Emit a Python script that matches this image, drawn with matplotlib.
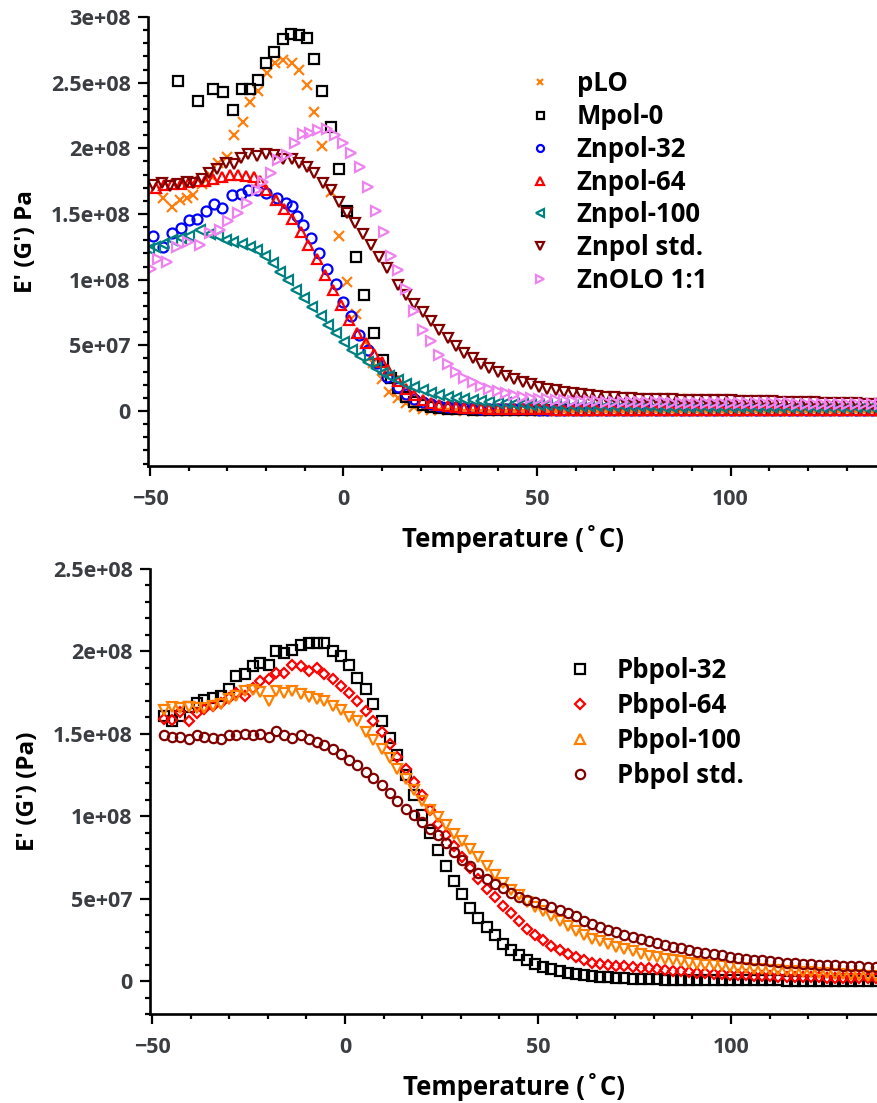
import numpy as np
import matplotlib
matplotlib.use("Agg")
import matplotlib.pyplot as plt
from matplotlib.lines import Line2D
from matplotlib.ticker import MultipleLocator

plt.rcParams["font.family"] = ["Open Sans", "DejaVu Sans"]
plt.rcParams["font.weight"] = "bold"

# ---------- DATA (E' in units of 1e7 Pa, T in degC) ----------
# top panel: shared high-temperature part of the ramp
T_TAIL_TOP = [14.0, 16.2, 18.3, 20.5, 22.6, 24.8, 26.9, 29.1, 31.2, 33.4,
              35.5, 37.7, 39.8, 42.0, 44.1, 46.3, 48.4, 50.6, 52.7, 54.9,
              57.0, 59.2, 61.3, 63.5, 65.6, 67.8, 69.9, 72.1, 74.2, 76.4,
              78.5, 80.7, 82.8, 85.0, 87.1, 89.3, 91.4, 93.6, 95.7, 97.9,
              100.0, 102.2, 104.3, 106.5, 108.6, 110.8, 112.9, 115.1, 117.2, 119.4,
              121.5, 123.7, 125.8, 128.0, 130.1, 132.3, 134.4, 136.6, 138.7]

T_PLO = [-46.6, -44.4, -42.2, -40.5, -38.8, -36.6, -34.5, -32.4, -30.2, -28.2,
         -26.0, -24.2, -22.0, -19.8, -17.7, -15.6, -13.4, -11.4, -9.5, -7.6,
         -5.5, -3.3, -1.2, 1.0, 3.2, 5.6, 7.7, 9.9, 11.8]
E_PLO = [16.2, 15.55, 16.05, 16.2, 16.45, 17.3, 17.95, 18.85, 19.35, 21.0,
         22.0, 23.5, 24.4, 25.7, 26.5, 26.7, 26.5, 26.0, 24.8, 22.8,
         20.2, 16.7, 13.3, 9.85, 7.35, 5.25, 3.65, 2.4, 1.47]
E_PLO_TAIL = [0.95, 0.58, 0.32, 0.18, 0.11, 0.07, 0.05, 0.04, 0.03, 0.03,
              0.03, 0.02, 0.02, 0.02, 0.02, 0.02, 0.02, 0.02, 0.02, 0.02,
              0.02, 0.02, 0.02, 0.02, 0.02, 0.02, 0.02, 0.02, 0.02, 0.02,
              0.02, 0.02, 0.02, 0.02, 0.02, 0.02, 0.02, 0.02, 0.02, 0.02,
              0.02, 0.02, 0.02, 0.02, 0.02, 0.02, 0.02, 0.02, 0.02, 0.02,
              0.02, 0.02, 0.02, 0.02, 0.02, 0.02, 0.02, 0.02, 0.02]

T_MPOL = [-42.8, -37.5, -33.8, -31.1, -28.5, -26.3, -24.2, -22.0, -20.0, -17.9,
          -15.7, -13.6, -11.5, -9.5, -7.6, -5.5, -3.3, -1.2, 1.0, 3.2,
          5.3, 7.9, 10.3, 12.4]
E_MPOL = [25.1, 23.6, 24.5, 24.3, 22.95, 24.55, 24.55, 25.2, 26.5, 27.3,
          28.3, 28.7, 28.6, 28.4, 26.8, 24.4, 21.6, 18.4, 15.2, 11.7,
          8.85, 5.95, 3.9, 2.5]
E_MPOL_TAIL = [1.75, 1.1, 0.7, 0.45, 0.3, 0.22, 0.17, 0.14, 0.12, 0.1,
               0.09, 0.09, 0.08, 0.08, 0.07, 0.07, 0.07, 0.06, 0.06, 0.06,
               0.06, 0.06, 0.05, 0.05, 0.05, 0.05, 0.05, 0.05, 0.05, 0.05,
               0.05, 0.05, 0.05, 0.05, 0.05, 0.05, 0.05, 0.05, 0.05, 0.05,
               0.05, 0.05, 0.05, 0.05, 0.04, 0.04, 0.04, 0.04, 0.04, 0.04,
               0.04, 0.04, 0.04, 0.04, 0.04, 0.04, 0.04, 0.04, 0.04]

T_ZN32 = [-49.2, -46.6, -44.2, -42.1, -39.8, -37.8, -35.6, -33.5, -31.5, -28.7,
          -26.5, -24.6, -22.4, -20.0, -17.3, -14.9, -13.2, -11.9, -10.4, -8.4,
          -6.3, -4.2, -2.0, -0.2, 1.9, 4.0, 6.3, 8.6, 11.2]
E_ZN32 = [13.3, 12.5, 13.55, 13.9, 14.55, 14.65, 15.25, 15.75, 15.45, 16.45,
          16.5, 16.8, 16.85, 16.6, 16.25, 15.85, 15.6, 14.85, 14.15, 13.2,
          12.05, 10.8, 9.65, 8.3, 7.2, 5.8, 4.65, 3.65, 2.6]
E_ZN32_TAIL = [1.8, 1.3, 0.92, 0.68, 0.52, 0.41, 0.33, 0.27, 0.23, 0.2,
               0.18, 0.16, 0.15, 0.14, 0.13, 0.12, 0.12, 0.11, 0.11, 0.1,
               0.1, 0.1, 0.1, 0.1, 0.1, 0.1, 0.1, 0.1, 0.1, 0.1,
               0.1, 0.1, 0.09, 0.09, 0.09, 0.09, 0.09, 0.09, 0.09, 0.09,
               0.09, 0.09, 0.09, 0.09, 0.09, 0.09, 0.09, 0.09, 0.09, 0.09,
               0.08, 0.08, 0.08, 0.08, 0.08, 0.08, 0.08, 0.08, 0.08]

T_ZN64 = [-48.4, -46.3, -44.2, -42.1, -39.9, -37.8, -35.7, -33.6, -31.5, -29.4,
          -27.3, -25.2, -23.1, -21.5, -20.0, -17.5, -15.4, -13.2, -11.1, -9.1,
          -6.9, -4.8, -2.8, -0.7, 1.5, 3.6, 5.7, 7.9, 9.9, 11.6]
E_ZN64 = [17.0, 17.2, 17.3, 17.3, 17.4, 17.5, 17.5, 17.65, 17.85, 18.0,
          18.0, 17.9, 17.8, 17.5, 16.8, 16.1, 15.35, 14.6, 13.65, 12.65,
          11.55, 10.35, 9.2, 8.05, 6.95, 5.9, 5.2, 4.35, 3.75, 3.1]
E_ZN64_TAIL = [2.3, 1.7, 1.2, 0.85, 0.62, 0.47, 0.37, 0.3, 0.25, 0.21,
               0.19, 0.17, 0.16, 0.15, 0.14, 0.13, 0.13, 0.12, 0.12, 0.11,
               0.11, 0.11, 0.1, 0.1, 0.1, 0.1, 0.1, 0.1, 0.1, 0.1,
               0.1, 0.1, 0.1, 0.1, 0.1, 0.1, 0.1, 0.1, 0.1, 0.1,
               0.1, 0.1, 0.1, 0.1, 0.1, 0.09, 0.09, 0.09, 0.09, 0.09,
               0.09, 0.09, 0.09, 0.09, 0.09, 0.09, 0.09, 0.09, 0.09]

T_ZN100 = [-50.3, -48.7, -46.6, -44.4, -42.1, -39.9, -37.1, -34.5, -32.4, -30.4,
           -28.5, -26.3, -24.2, -22.3, -20.3, -18.1, -16.4, -14.4, -12.3, -10.1,
           -8.1, -5.9, -3.9, -1.8, 0.2, 2.3, 4.3, 6.3, 8.3, 10.3, 11.8]
E_ZN100 = [12.3, 12.5, 12.75, 13.05, 13.2, 13.3, 13.75, 13.5, 13.3, 13.05,
           12.9, 12.75, 12.5, 12.25, 11.8, 11.25, 10.6, 9.95, 9.2, 8.6,
           7.95, 7.2, 6.55, 5.9, 5.25, 4.65, 4.15, 3.7, 3.25, 2.9, 2.65]
E_ZN100_TAIL = [2.35, 2.05, 1.8, 1.58, 1.4, 1.25, 1.1, 0.98, 0.88, 0.8,
                0.73, 0.67, 0.62, 0.58, 0.54, 0.51, 0.48, 0.46, 0.44, 0.42,
                0.41, 0.4, 0.39, 0.38, 0.37, 0.37, 0.36, 0.36, 0.35, 0.35,
                0.35, 0.34, 0.34, 0.34, 0.33, 0.33, 0.33, 0.33, 0.32, 0.32,
                0.32, 0.32, 0.32, 0.32, 0.32, 0.31, 0.31, 0.31, 0.31, 0.31,
                0.31, 0.31, 0.3, 0.3, 0.3, 0.3, 0.3, 0.3, 0.3]

T_ZNSTD = [-49.1, -47.0, -44.8, -42.7, -40.5, -38.8, -36.6, -34.7, -32.6, -30.4,
           -28.2, -26.6, -24.6, -22.4, -20.1, -18.0, -15.7, -13.4, -11.4, -9.5,
           -7.6, -5.4, -3.3, -1.2, 1.0, 3.0, 5.0, 7.0, 9.2, 11.2]
E_ZNSTD = [17.2, 17.35, 17.1, 17.3, 17.45, 17.35, 17.7, 18.15, 18.45, 18.9,
           18.8, 19.3, 19.6, 19.4, 19.55, 19.5, 19.15, 19.15, 18.9, 18.6,
           18.1, 17.35, 16.8, 15.95, 15.1, 14.35, 13.5, 12.65, 11.75, 10.85]
E_ZNSTD_TAIL = [9.6, 8.8, 8.15, 7.5, 6.85, 6.15, 5.55, 4.95, 4.45, 4.0,
                3.6, 3.25, 2.95, 2.7, 2.45, 2.22, 2.03, 1.85, 1.7, 1.58,
                1.47, 1.37, 1.28, 1.2, 1.13, 1.07, 1.03, 1.0, 0.97, 0.94,
                0.92, 0.9, 0.89, 0.88, 0.87, 0.86, 0.85, 0.84, 0.83, 0.82,
                0.8, 0.79, 0.78, 0.77, 0.75, 0.73, 0.71, 0.7, 0.68, 0.67,
                0.65, 0.64, 0.62, 0.61, 0.59, 0.58, 0.56, 0.55, 0.53]

T_ZNOLO = [-49.6, -47.9, -45.7, -43.1, -40.1, -37.1, -34.5, -31.9, -29.8, -27.2,
           -25.0, -22.4, -20.7, -18.6, -16.8, -14.7, -12.5, -10.5, -8.7, -6.5,
           -4.3, -2.2, -0.2, 1.9, 4.3, 6.4, 8.4, 10.4, 12.4]
E_ZNOLO = [10.8, 11.6, 11.35, 12.5, 12.9, 12.65, 13.55, 13.75, 14.5, 15.05,
           15.85, 16.85, 17.45, 18.1, 19.1, 19.5, 20.4, 21.1, 21.2, 21.4,
           21.45, 21.0, 20.4, 19.65, 18.6, 17.05, 15.2, 13.6, 11.8]
E_ZNOLO_TAIL = [10.7, 9.3, 7.6, 6.2, 5.3, 4.3, 3.55, 2.95, 2.52, 2.17,
                1.88, 1.67, 1.49, 1.36, 1.23, 1.1, 1.0, 0.93, 0.89, 0.85,
                0.82, 0.79, 0.77, 0.75, 0.73, 0.72, 0.71, 0.7, 0.69, 0.68,
                0.67, 0.66, 0.65, 0.64, 0.63, 0.63, 0.62, 0.62, 0.61, 0.61,
                0.6, 0.6, 0.59, 0.59, 0.58, 0.58, 0.57, 0.57, 0.56, 0.56,
                0.55, 0.55, 0.54, 0.54, 0.53, 0.53, 0.52, 0.52, 0.51]

# bottom panel: one temperature ramp shared by the four Pb samples
T_BOT = [-46.9, -44.8, -42.6, -40.4, -38.4, -36.4, -34.3, -32.2, -30.1, -28.1,
         -26.0, -23.9, -21.9, -19.8, -17.8, -15.7, -13.6, -11.5, -9.4, -7.3,
         -5.3, -3.2, -1.0, 1.1, 3.2, 5.4, 7.4, 9.5, 11.6, 13.6,
         15.7, 17.9, 19.9, 22.0, 24.1, 26.2, 28.3, 30.4, 32.5, 34.6,
         36.7, 38.8, 40.9, 43.0, 45.1, 47.2, 49.3, 51.4, 53.5, 55.6,
         57.7, 59.8, 61.9, 64.0, 66.1, 68.2, 70.3, 72.4, 74.5, 76.6,
         78.7, 80.8, 82.9, 85.0, 87.1, 89.2, 91.3, 93.4, 95.5, 97.6,
         99.7, 101.8, 103.9, 106.0, 108.1, 110.2, 112.3, 114.4, 116.5, 118.6,
         120.7, 122.8, 124.9, 127.0, 129.1, 131.2, 133.3, 135.4, 137.5]
E_PB32 = [16.1, 15.8, 16.1, 16.65, 16.9, 17.05, 17.2, 17.3, 17.7, 18.5,
          18.6, 19.1, 19.3, 19.2, 20.0, 19.9, 20.1, 20.4, 20.5, 20.5,
          20.5, 20.0, 19.7, 19.2, 18.4, 17.7, 16.8, 15.8, 14.75, 13.7,
          12.5, 11.3, 10.1, 9.0, 7.95, 7.0, 6.05, 5.3, 4.45, 3.85,
          3.3, 2.8, 2.25, 1.87, 1.55, 1.27, 1.05, 0.87, 0.72, 0.61,
          0.5, 0.43, 0.37, 0.31, 0.27, 0.23, 0.2, 0.17, 0.15, 0.13,
          0.11, 0.1, 0.09, 0.08, 0.07, 0.06, 0.06, 0.05, 0.05, 0.05,
          0.05, 0.04, 0.04, 0.04, 0.04, 0.04, 0.04, 0.03, 0.03, 0.03,
          0.03, 0.03, 0.03, 0.03, 0.03, 0.03, 0.03, 0.03, 0.03]
E_PB64 = [15.9, 15.85, 16.3, 15.8, 16.25, 16.5, 16.7, 16.9, 17.2, 17.5,
          17.3, 17.8, 18.2, 18.3, 18.7, 18.7, 19.2, 19.1, 18.8, 19.0,
          18.6, 18.3, 17.9, 17.5, 17.0, 16.4, 15.75, 15.1, 14.4, 13.6,
          12.85, 12.1, 11.3, 10.4, 9.55, 8.85, 8.2, 7.55, 6.85, 6.2,
          5.6, 5.1, 4.58, 4.1, 3.62, 3.18, 2.8, 2.5, 2.15, 1.88,
          1.66, 1.47, 1.28, 1.1, 1.03, 0.98, 0.94, 0.9, 0.87, 0.82,
          0.77, 0.72, 0.68, 0.63, 0.59, 0.55, 0.5, 0.47, 0.44, 0.41,
          0.39, 0.36, 0.34, 0.32, 0.31, 0.29, 0.27, 0.26, 0.25, 0.24,
          0.23, 0.22, 0.21, 0.2, 0.19, 0.18, 0.17, 0.16, 0.16]
E_PB100 = [16.45, 16.6, 16.55, 16.6, 16.55, 16.55, 16.7, 16.8, 17.1, 17.3,
           17.6, 17.65, 17.55, 17.0, 17.6, 17.5, 17.6, 17.4, 17.25, 17.1,
           17.0, 16.7, 16.45, 16.05, 15.75, 15.1, 14.6, 14.05, 13.55, 12.85,
           12.25, 11.6, 10.95, 10.4, 9.95, 9.45, 8.95, 8.5, 8.0, 7.5,
           7.0, 6.45, 5.95, 5.5, 5.2, 4.8, 4.5, 4.25, 3.95, 3.65,
           3.35, 3.05, 2.8, 2.58, 2.4, 2.22, 2.08, 1.93, 1.8, 1.67,
           1.54, 1.44, 1.35, 1.27, 1.19, 1.12, 1.06, 1.0, 0.95, 0.9,
           0.86, 0.82, 0.78, 0.74, 0.71, 0.68, 0.64, 0.61, 0.58, 0.55,
           0.52, 0.5, 0.47, 0.44, 0.41, 0.38, 0.35, 0.33, 0.3]
E_PBSTD = [14.9, 14.8, 14.8, 14.7, 14.95, 14.8, 14.75, 14.7, 14.9, 14.95,
           15.0, 14.95, 15.0, 14.8, 15.15, 14.9, 14.75, 14.9, 14.7, 14.5,
           14.3, 14.1, 13.8, 13.4, 13.1, 12.7, 12.3, 11.9, 11.4, 10.95,
           10.45, 10.1, 9.65, 9.25, 8.85, 8.35, 7.85, 7.35, 6.95, 6.55,
           6.2, 5.9, 5.65, 5.35, 5.1, 4.92, 4.8, 4.65, 4.5, 4.3,
           4.1, 3.92, 3.65, 3.45, 3.27, 3.1, 2.95, 2.8, 2.68, 2.55,
           2.43, 2.32, 2.2, 2.08, 1.98, 1.88, 1.79, 1.7, 1.62, 1.55,
           1.48, 1.42, 1.36, 1.3, 1.25, 1.2, 1.16, 1.12, 1.09, 1.06,
           1.03, 1.0, 0.98, 0.96, 0.94, 0.92, 0.9, 0.88, 0.87]

LABELS_TOP = ["pLO", "Mpol-0", "Znpol-32", "Znpol-64", "Znpol-100", "Znpol std.", "ZnOLO 1:1"]
LABELS_BOT = ["Pbpol-32", "Pbpol-64", "Pbpol-100", "Pbpol std."]

XTICKS = [-50, 0, 50, 100]
XTICK_LABELS = ["\u221250", "0", "50", "100"]
YTICKS_TOP = [0, 5e7, 1e8, 1.5e8, 2e8, 2.5e8, 3e8]
YTICK_LABELS_TOP = ["0", "5e+07", "1e+08", "1.5e+08", "2e+08", "2.5e+08", "3e+08"]
YTICKS_BOT = [0, 5e7, 1e8, 1.5e8, 2e8, 2.5e8]
YTICK_LABELS_BOT = ["0", "5e+07", "1e+08", "1.5e+08", "2e+08", "2.5e+08"]

SCALE = 1e7
TICK_COLOR = "#3a3d41"

# ---------- FIGURE ----------
W, H = 878, 1103
fig = plt.figure(figsize=(W / 100, H / 100), dpi=100)

ax1 = fig.add_axes([148 / W, 1 - 466 / H, (W - 148) / W, (466 - 17) / H])
ax2 = fig.add_axes([150 / W, 1 - 1014 / H, (W - 150) / W, (1014 - 569) / H])


def style_axis(ax, yticks, ylabels):
    for s in ["top", "right"]:
        ax.spines[s].set_visible(False)
    for s in ["left", "bottom"]:
        ax.spines[s].set_linewidth(1.9)
    ax.set_xticks(XTICKS, labels=XTICK_LABELS)
    ax.set_yticks(yticks, labels=ylabels)
    ax.xaxis.set_minor_locator(MultipleLocator(10))
    ax.yaxis.set_minor_locator(MultipleLocator(1e7))
    ax.tick_params(which="major", length=7.5, width=1.6,
                   labelsize=15.5, labelcolor=TICK_COLOR)
    ax.tick_params(which="minor", length=3.8, width=1.6)
    ax.tick_params(axis="x", which="major", pad=9)
    ax.tick_params(axis="y", which="major", pad=5)
    for lab in ax.get_xticklabels() + ax.get_yticklabels():
        lab.set_fontweight("bold")


def tail_join(a, b):
    return np.concatenate([np.asarray(a, float), np.asarray(b, float)])


top_series = [
    (tail_join(T_PLO, T_TAIL_TOP), tail_join(E_PLO, E_PLO_TAIL), "x", "#ff7f0e", 7.0),
    (tail_join(T_MPOL, T_TAIL_TOP), tail_join(E_MPOL, E_MPOL_TAIL), "s", "black", 7.2),
    (tail_join(T_ZN32, T_TAIL_TOP), tail_join(E_ZN32, E_ZN32_TAIL), "o", "#0000ff", 7.2),
    (tail_join(T_ZN64, T_TAIL_TOP), tail_join(E_ZN64, E_ZN64_TAIL), "^", "#ff0000", 7.8),
    (tail_join(T_ZN100, T_TAIL_TOP), tail_join(E_ZN100, E_ZN100_TAIL), "<", "#008080", 7.8),
    (tail_join(T_ZNSTD, T_TAIL_TOP), tail_join(E_ZNSTD, E_ZNSTD_TAIL), "v", "#800000", 7.8),
    (tail_join(T_ZNOLO, T_TAIL_TOP), tail_join(E_ZNOLO, E_ZNOLO_TAIL), ">", "#ee82ee", 7.8),
]

handles_top = []
for (t, e, m, c, ms), lab in zip(top_series, LABELS_TOP):
    fill = c if m == "x" else "none"
    ax1.plot(t, e * SCALE, ls="none", marker=m, ms=ms, mfc=fill, mec=c, mew=1.6)
    handles_top.append(Line2D([], [], ls="none", marker=m, ms=ms * 0.7,
                              mfc=fill, mec=c, mew=1.6, label=lab))

bot_series = [
    (E_PB32, "s", "black", 6.5, "s"),
    (E_PB64, "D", "#ff0000", 5.0, "D"),
    (E_PB100, "v", "#ff8000", 7.2, "^"),
    (E_PBSTD, "o", "#800000", 6.7, "o"),
]
handles_bot = []
for (e, m, c, ms, lm), lab in zip(bot_series, LABELS_BOT):
    ax2.plot(T_BOT, np.asarray(e) * SCALE, ls="none", marker=m, ms=ms,
             mfc="none", mec=c, mew=1.6)
    handles_bot.append(Line2D([], [], ls="none", marker=lm, ms=ms,
                              mfc="none", mec=c, mew=1.6, label=lab))

ax1.set_xlim(-50.5, 138.1)
ax1.set_ylim(-4.19e7, 3.0e8)
ax2.set_xlim(-50.5, 138.1)
ax2.set_ylim(-2.0e7, 2.5e8)

style_axis(ax1, YTICKS_TOP, YTICK_LABELS_TOP)
style_axis(ax2, YTICKS_BOT, YTICK_LABELS_BOT)

for ax, ylab in [(ax1, "E' (G') Pa"), (ax2, "E' (G') (Pa)")]:
    ax.set_xlabel("Temperature (\u02daC)", fontsize=18.5, fontweight="bold", labelpad=11)
    ax.set_ylabel(ylab, fontsize=17.5, fontweight="bold", labelpad=9)

leg_kw = dict(loc="upper left", frameon=False, borderpad=0, borderaxespad=0,
              handlelength=1.0, handletextpad=0.94,
              prop=dict(size=18.5, weight="bold"), bbox_transform=fig.transFigure)
ax1.legend(handles=handles_top, bbox_to_anchor=(527 / W, 1 - 70 / H),
           labelspacing=0.228, **leg_kw)
ax2.legend(handles=handles_bot, bbox_to_anchor=(567 / W, 1 - 657 / H),
           labelspacing=0.31, **leg_kw)

fig.savefig("out.png", dpi=100)
